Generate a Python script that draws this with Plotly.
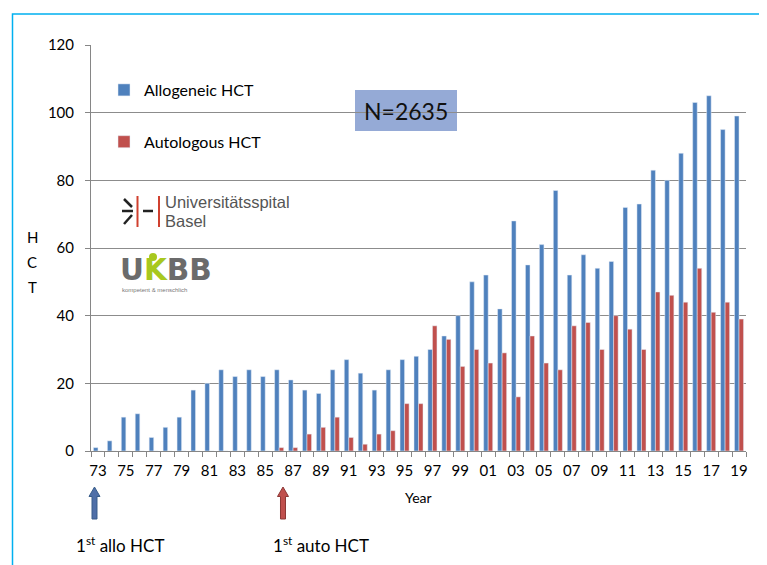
import plotly.graph_objects as go

years = ["73","74","75","76","77","78","79","80","81","82","83","84","85","86","87","88","89",
         "90","91","92","93","94","95","96","97","98","99","00","01","02","03","04","05","06",
         "07","08","09","10","11","12","13","14","15","16","17","18","19"]
allo = [1,3,10,11,4,7,10,18,20,24,22,24,22,24,21,18,17,24,27,23,18,24,27,28,30,34,40,50,52,42,
        68,55,61,77,52,58,54,56,72,73,83,80,88,103,105,95,99]
auto = [0,0,0,0,0,0,0,0,0,0,0,0,0,1,1,5,7,10,4,2,5,6,14,14,37,33,25,30,26,29,16,34,26,24,37,38,
        30,40,36,30,47,46,44,54,41,44,39]
tick_labels = [y if i % 2 == 0 else "" for i, y in enumerate(years)]
y_ticks = [0, 20, 40, 60, 80, 100, 120]

FONT = "Lato"
OFF = 8  # page body margin
X0, W, Y0, H = 91, 655, 451, 406
FIG_W, FIG_H = 767 - OFF, 565 - OFF


def px(x):
    return (x - X0) / W


def py(y):
    return (Y0 - y) / H


def path(points):
    s = "M " + " L ".join(f"{px(x):.5f},{py(y):.5f}" for x, y in points) + " Z"
    return s


def arrow(cx):
    pts = [(cx, 487), (cx + 5.5, 496.5), (cx + 2.5, 496.5), (cx + 2.5, 519),
           (cx - 2.5, 519), (cx - 2.5, 496.5), (cx - 5.5, 496.5)]
    return path(pts)


fig = go.Figure()
fig.add_trace(go.Bar(x=years, y=allo, name="Allogeneic HCT", marker_color="#4F81BD",
                     legendgroup="a"))
fig.add_trace(go.Bar(x=years, y=auto, name="Autologous HCT", marker_color="#C0504D",
                     legendgroup="b"))

shapes = []
# outer light-blue frame
shapes.append(dict(type="rect", xref="paper", yref="paper", x0=px(12.5), x1=px(765),
                   y0=py(580), y1=py(14), line=dict(color="#00B0F0", width=1.5),
                   fillcolor="rgba(0,0,0,0)", layer="below"))
# N box
shapes.append(dict(type="rect", xref="paper", yref="paper", x0=px(355), x1=px(457),
                   y0=py(131), y1=py(90), line=dict(width=0), fillcolor="#95AAD6",
                   layer="below"))
# arrows
shapes.append(dict(type="path", xref="paper", yref="paper", path=arrow(94.5),
                   fillcolor="#4F6FA8", line=dict(color="#385D8A", width=1)))
shapes.append(dict(type="path", xref="paper", yref="paper", path=arrow(283),
                   fillcolor="#C0504D", line=dict(color="#8C3836", width=1)))
# Universitätsspital logo symbol
for (xa, ya, xb, yb) in [(122, 211, 133, 211), (124, 199, 132, 207), (124, 224, 132, 215),
                         (143, 211, 153, 211)]:
    shapes.append(dict(type="line", xref="paper", yref="paper", x0=px(xa), y0=py(ya),
                       x1=px(xb), y1=py(yb), line=dict(color="#222222", width=2.5)))
for xr in [137.5, 159]:
    shapes.append(dict(type="line", xref="paper", yref="paper", x0=px(xr), y0=py(196),
                       x1=px(xr), y1=py(227), line=dict(color="#D0402F", width=2)))
# UKBB head dot
shapes.append(dict(type="circle", xref="paper", yref="paper", x0=px(149), x1=px(157),
                   y0=py(261), y1=py(253), fillcolor="#A8C81E", line=dict(width=0)))

ann = []


def text(x, y, t, size, color="#000000", xanchor="center", family=FONT, **kw):
    ann.append(dict(xref="paper", yref="paper", x=px(x), y=py(y), text=t, showarrow=False,
                    xanchor=xanchor, yanchor="middle",
                    font=dict(family=family, size=size, color=color), **kw))


text(406, 111, "N=2635", 23, "#111111")
text(418, 497, "Year", 14)
text(32, 237, "H", 15)
text(32, 262, "C", 15)
text(32, 287, "T", 15)
text(74, 544, "1<sup>st</sup> allo HCT", 17, xanchor="left")
text(271, 544, "1<sup>st</sup> auto HCT", 17, xanchor="left")
text(163, 202, "Universitätsspital", 16.5, "#555555", xanchor="left",
     family="Liberation Sans", height=18)
text(163, 221, "Basel", 16.5, "#555555", xanchor="left", family="Liberation Sans",
     height=18)
text(118, 270, "<b>U<span style='color:#A8C81E'>K</span>BB</b>", 29.5, "#6B6B6B",
     xanchor="left", family="DejaVu Sans", height=26)
text(120, 290, "kompetent &amp; menschlich", 6, "#777777", xanchor="left",
     family="Liberation Sans")

fig.update_layout(
    width=FIG_W, height=FIG_H, autosize=False,
    margin=dict(l=X0 - OFF, r=FIG_W - (X0 - OFF + W), t=Y0 - H - OFF,
                b=FIG_H - (Y0 - OFF), pad=0),
    paper_bgcolor="white", plot_bgcolor="white",
    barmode="group", bargap=0.35, bargroupgap=0,
    font=dict(family=FONT, size=15, color="#000000"),
    showlegend=True,
    legend=dict(x=px(104), y=py(73), xanchor="left", yanchor="top",
                bgcolor="rgba(0,0,0,0)", font=dict(size=16), tracegroupgap=28,
                traceorder="grouped", itemwidth=30),
    shapes=shapes, annotations=ann,
)
fig.update_xaxes(type="category", tickmode="array", tickvals=years, ticktext=tick_labels,
                 tickson="boundaries", ticks="outside", ticklen=5, tickcolor="#868686",
                 showline=True, linecolor="#868686", linewidth=1, showgrid=False,
                 tickfont=dict(size=15), ticklabelstandoff=6, range=[-0.5, 46.5],
                 tickangle=0, automargin=False)
fig.update_yaxes(range=[0, 120], tickvals=y_ticks, ticks="outside", ticklen=5,
                 tickcolor="#868686", showline=True, linecolor="#868686", linewidth=1,
                 showgrid=True, gridcolor="#8C8C8C", gridwidth=1, zeroline=False,
                 tickfont=dict(size=15), ticklabelstandoff=8, automargin=False)

fig.write_html("out.html")
